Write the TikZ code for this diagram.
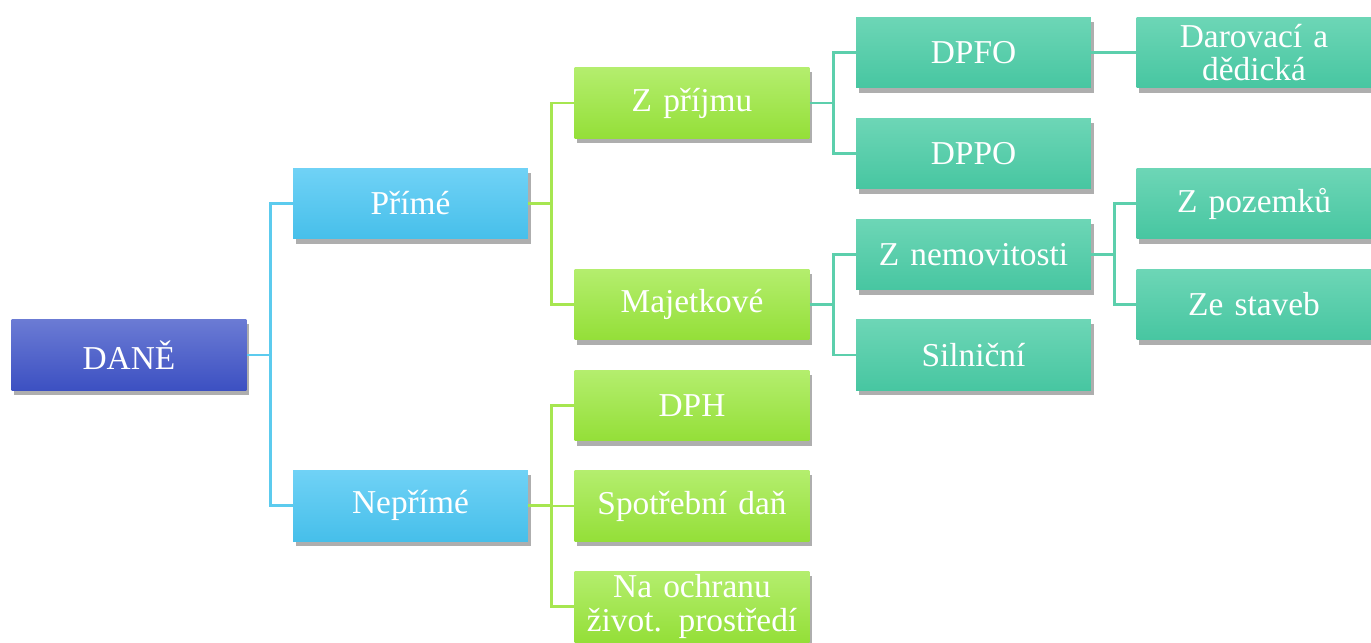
\documentclass[tikz,border=0pt]{standalone}
\usepackage{fontspec}
\setmainfont{Liberation Serif}
\usetikzlibrary{shadows}
\definecolor{daneTop}{HTML}{6B7BD4}
\definecolor{daneBot}{HTML}{3C50C2}
\definecolor{modraTop}{HTML}{70D2F6}
\definecolor{modraBot}{HTML}{46BFEA}
\definecolor{zelenaTop}{HTML}{B4EE6E}
\definecolor{zelenaBot}{HTML}{94DF38}
\definecolor{tyrkysTop}{HTML}{6DD6B6}
\definecolor{tyrkysBot}{HTML}{47C6A1}
\definecolor{modraCara}{HTML}{5CCBEE}
\definecolor{zelenaCara}{HTML}{A6E650}
\definecolor{tyrkysCara}{HTML}{5CCFAC}

\begin{document}
\begin{tikzpicture}[x=0.02cm,y=-0.02cm,
        box/.style={minimum width=4.7cm,minimum height=1.42cm,text width=4.5cm,
            align=center,text=white,inner sep=0pt,
            font=\fontsize{19}{19}\selectfont,
            drop shadow={shadow xshift=1.6pt,shadow yshift=-2.6pt,opacity=0.45,fill=black!70}},
        koren/.style={box,top color=daneTop,bottom color=daneBot},
        modra/.style={box,top color=modraTop,bottom color=modraBot},
        zelena/.style={box,top color=zelenaTop,bottom color=zelenaBot},
        tyrkys/.style={box,top color=tyrkysTop,bottom color=tyrkysBot},
        cara/.style={line width=1.6pt}]
            \useasboundingbox (0,0) rectangle (1371,642);
            % uzly
            \node[koren] (dane) at (129,355) {DANĚ};
            \node[modra] (prime) at (410.5,203.5) {Přímé};
            \node[modra] (neprime) at (410.5,505.5) {Nepřímé};
            \node[zelena] (prijem) at (692,103) {Z příjmu};
            \node[zelena] (majetek) at (692,304.5) {Majetkové};
            \node[zelena] (dph) at (692,405.5) {DPH};
            \node[zelena] (spotreba) at (692,506) {Spotřební daň};
            \node[zelena] (ochrana) at (692,606.5) {Na ochranu\\život. prostředí};
            \node[tyrkys] (dpfo) at (973.5,52.5) {DPFO};
            \node[tyrkys] (dppo) at (973.5,153.5) {DPPO};
            \node[tyrkys] (nemovitost) at (973.5,254.5) {Z nemovitosti};
            \node[tyrkys] (silnice) at (973.5,355) {Silniční};
            \node[tyrkys] (dar) at (1254,52.5) {Darovací a\\dědická};
            \node[tyrkys] (pozemek) at (1254,203.5) {Z pozemků};
            \node[tyrkys] (stavba) at (1254,304.5) {Ze staveb};
            % spojnice
            \foreach \c in {prime,neprime}
                \draw[cara,modraCara] (dane.east) -- ++(23.5,0) |- (\c.west);
            \foreach \c in {prijem,majetek}
                \draw[cara,zelenaCara] (prime.east) -- ++(23.5,0) |- (\c.west);
            \foreach \c in {dph,spotreba,ochrana}
                \draw[cara,zelenaCara] (neprime.east) -- ++(23.5,0) |- (\c.west);
            \foreach \c in {dpfo,dppo}
                \draw[cara,tyrkysCara] (prijem.east) -- ++(23.5,0) |- (\c.west);
            \foreach \c in {nemovitost,silnice}
                \draw[cara,tyrkysCara] (majetek.east) -- ++(23.5,0) |- (\c.west);
            \foreach \c in {pozemek,stavba}
                \draw[cara,tyrkysCara] (nemovitost.east) -- ++(23,0) |- (\c.west);
            \draw[cara,tyrkysCara] (dpfo.east) -- (dar.west);
        \end{tikzpicture}
\end{document}
